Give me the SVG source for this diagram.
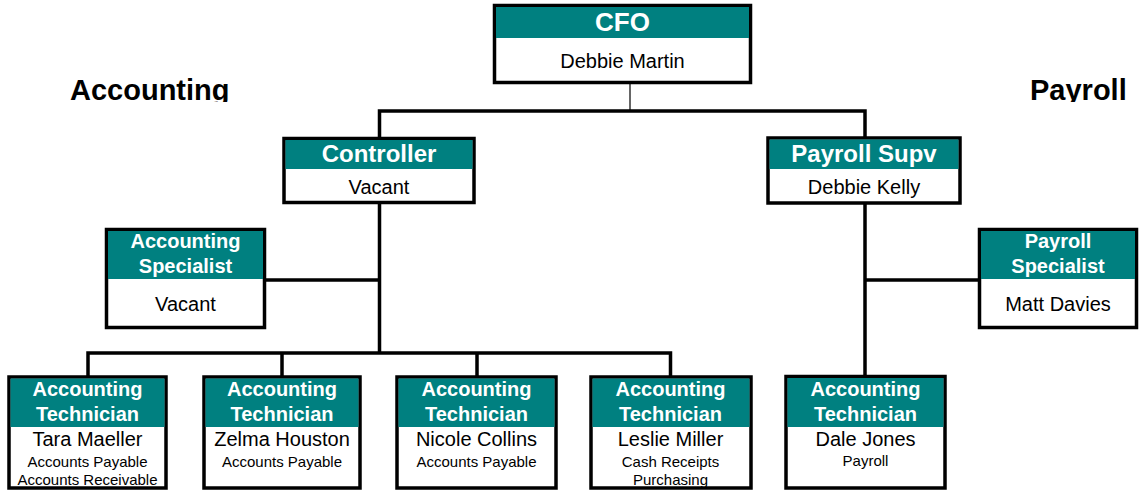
<svg xmlns="http://www.w3.org/2000/svg" width="1139" height="490" viewBox="0 0 1139 490">
<style>
.box{fill:#fff;stroke:#000;stroke-width:3.5}
.hd{fill:#008080}
.t{font-family:"Liberation Sans",Arial,sans-serif;text-anchor:middle}
.h{fill:#fff;font-weight:bold}
.n{fill:#000;font-size:20px}
.s{fill:#000;font-size:15px}
.c{stroke:#000;stroke-width:3.5;fill:none}
.sec{font-family:"Liberation Sans",Arial,sans-serif;font-weight:bold;font-size:29px;fill:#000}
</style>
<defs>
<clipPath id="cl"><rect x="0" y="0" width="1139" height="102"/></clipPath>
</defs>
<g id="labels" clip-path="url(#cl)">
<text class="sec" x="70" y="100">Accounting</text>
<text class="sec" x="1030" y="100">Payroll</text>
</g>
<g id="connectors">
<line x1="630" y1="83" x2="630" y2="111" stroke="#333" stroke-width="1.5"/>
<path class="c" d="M379.5 137V111H865V137"/>
<path class="c" d="M379.5 203V353M266 280H379.5"/>
<path class="c" d="M88 376V353H670.5V376M282 353V376M477 353V376"/>
<path class="c" d="M865 204V376M865 280H979"/>
</g>
<g id="cfo">
<rect class="box" x="494.5" y="5.5" width="256" height="77"/>
<rect class="hd" x="496" y="7" width="253" height="31"/>
<text class="t h" x="622.5" y="31" font-size="26">CFO</text>
<text class="t n" x="622.5" y="68">Debbie Martin</text>
</g>
<g id="controller">
<rect class="box" x="284" y="138.5" width="190" height="64"/>
<rect class="hd" x="285.5" y="140" width="187" height="29"/>
<text class="t h" x="379" y="162" font-size="24">Controller</text>
<text class="t n" x="379" y="194">Vacant</text>
</g>
<g id="payroll-supv">
<rect class="box" x="768" y="138" width="192" height="65"/>
<rect class="hd" x="769.5" y="139.5" width="189" height="29.5"/>
<text class="t h" x="864" y="162" font-size="24">Payroll Supv</text>
<text class="t n" x="864" y="194">Debbie Kelly</text>
</g>
<g id="accounting-specialist">
<rect class="box" x="106.5" y="229.5" width="158" height="98"/>
<rect class="hd" x="108" y="231" width="155" height="48"/>
<text class="t h" x="185.5" y="248" font-size="20">Accounting</text>
<text class="t h" x="185.5" y="273" font-size="20">Specialist</text>
<text class="t n" x="185.5" y="311">Vacant</text>
</g>
<g id="payroll-specialist">
<rect class="box" x="979.5" y="229.5" width="157" height="98"/>
<rect class="hd" x="981" y="231" width="154" height="48"/>
<text class="t h" x="1058" y="248" font-size="20">Payroll</text>
<text class="t h" x="1058" y="273" font-size="20">Specialist</text>
<text class="t n" x="1058" y="311">Matt Davies</text>
</g>
<g id="tech-tara">
<rect class="box" x="9" y="377" width="157" height="111"/>
<rect class="hd" x="10.5" y="378.5" width="154" height="48.5"/>
<text class="t h" x="87.5" y="396" font-size="20">Accounting</text>
<text class="t h" x="87.5" y="421" font-size="20">Technician</text>
<text class="t n" x="87.5" y="446">Tara Maeller</text>
<text class="t s" x="87.5" y="467">Accounts Payable</text>
<text class="t s" x="87.5" y="485">Accounts Receivable</text>
</g>
<g id="tech-zelma">
<rect class="box" x="204" y="377" width="156" height="111"/>
<rect class="hd" x="205.5" y="378.5" width="153" height="48.5"/>
<text class="t h" x="282" y="396" font-size="20">Accounting</text>
<text class="t h" x="282" y="421" font-size="20">Technician</text>
<text class="t n" x="282" y="446">Zelma Houston</text>
<text class="t s" x="282" y="467">Accounts Payable</text>
</g>
<g id="tech-nicole">
<rect class="box" x="397" y="377" width="159" height="111"/>
<rect class="hd" x="398.5" y="378.5" width="156" height="48.5"/>
<text class="t h" x="476.5" y="396" font-size="20">Accounting</text>
<text class="t h" x="476.5" y="421" font-size="20">Technician</text>
<text class="t n" x="476.5" y="446">Nicole Collins</text>
<text class="t s" x="476.5" y="467">Accounts Payable</text>
</g>
<g id="tech-leslie">
<rect class="box" x="591" y="377" width="160" height="111"/>
<rect class="hd" x="592.5" y="378.5" width="157" height="48.5"/>
<text class="t h" x="670.5" y="396" font-size="20">Accounting</text>
<text class="t h" x="670.5" y="421" font-size="20">Technician</text>
<text class="t n" x="670.5" y="446">Leslie Miller</text>
<text class="t s" x="670.5" y="467">Cash Receipts</text>
<text class="t s" x="670.5" y="485">Purchasing</text>
</g>
<g id="tech-dale">
<rect class="box" x="786" y="376.5" width="159" height="111.5"/>
<rect class="hd" x="787.5" y="378" width="156" height="49"/>
<text class="t h" x="865.5" y="396" font-size="20">Accounting</text>
<text class="t h" x="865.5" y="421" font-size="20">Technician</text>
<text class="t n" x="865.5" y="446">Dale Jones</text>
<text class="t s" x="865.5" y="466">Payroll</text>
</g>
</svg>
